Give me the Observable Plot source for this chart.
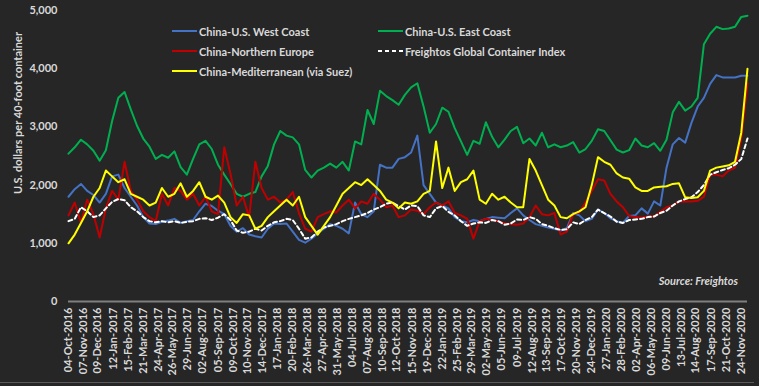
<!DOCTYPE html>
<html><head><meta charset="utf-8">
<script src="https://cdn.jsdelivr.net/npm/d3@7"></script>
<script src="https://cdn.jsdelivr.net/npm/@observablehq/plot@0.6"></script>
<style>
html,body{margin:0;padding:0;background:#262626;}
#wrap{position:relative;width:759px;height:386px;overflow:hidden;background:#262626;font-family:Lato,"Open Sans",sans-serif;color:#d9d9d9;}
#wrap svg{position:absolute;left:0;top:0;}
.lg{position:absolute;display:flex;align-items:center;height:14px;font-size:11px;font-weight:700;white-space:nowrap;color:#d9d9d9;}
.lg svg{position:static !important;margin-right:2px;}
#ylab{position:absolute;left:17px;top:113px;transform:translate(-50%,-50%) rotate(-90deg);font-size:11px;font-weight:700;white-space:nowrap;}
#src{position:absolute;right:21px;top:274px;font-size:11px;font-style:italic;font-weight:700;}
#bot{position:absolute;left:0;top:382px;width:754px;height:1px;background:#5a5a5a;}
</style></head>
<body><div id="wrap"></div>
<script>
// sampling grid: every 14 days from the first date
const startDate = "04-Oct-2016";
const stepDays = 14;

const westCoast = [1800,1930,2020,1900,1830,1700,1850,2150,2180,1950,
1800,1650,1450,1340,1330,1370,1390,1420,1350,1380,
1400,1550,1680,1640,1560,1500,1300,1200,1260,1150,
1120,1100,1250,1340,1330,1340,1200,1060,1010,1080,
1170,1250,1330,1300,1250,1170,1700,1500,1450,1550,
2350,2300,2300,2450,2480,2560,2850,2000,1850,1700,
1650,1600,1450,1380,1360,1400,1380,1420,1450,1440,
1430,1520,1600,1480,1400,1330,1300,1270,1250,1220,
1260,1520,1480,1380,1420,1580,1520,1430,1380,1350,
1470,1480,1600,1510,1720,1650,2300,2700,2810,2730,
3070,3350,3500,3740,3890,3850,3850,3850,3880,3880];

const eastCoast = [2540,2650,2780,2700,2590,2420,2600,3100,3500,3600,
3300,3020,2800,2660,2450,2520,2470,2580,2310,2180,
2450,2700,2760,2620,2350,2180,2020,1850,1800,1850,
1880,2150,2330,2700,2930,2850,2820,2700,2260,2130,
2250,2300,2370,2300,2400,2250,2750,2700,3290,3050,
3620,3530,3460,3380,3550,3680,3750,3350,2900,3050,
3330,3260,2980,2750,2520,2760,2710,3080,2830,2650,
2780,2930,3000,2720,2800,2680,2900,2650,2700,2650,
2680,2740,2560,2620,2760,2960,2930,2770,2610,2560,
2600,2800,2680,2650,2720,2590,2780,3250,3430,3280,
3350,3500,4420,4600,4720,4680,4690,4720,4890,4910];

const northernEurope = [1480,1700,1350,1750,1500,1100,1600,1900,1750,2400,
1900,1750,1550,1450,1380,1850,1650,1950,1900,1750,
1850,1650,1800,1550,1500,2650,2200,1650,1800,1450,
2400,1950,1750,1800,1700,1750,1880,1520,1250,1200,
1450,1500,1550,1530,1650,1750,1600,1720,1680,1850,
1750,1620,1650,1450,1480,1580,1560,1500,1620,1700,
1650,1720,1520,1480,1420,1080,1380,1420,1400,1380,
1340,1330,1320,1340,1450,1650,1500,1480,1520,1150,
1200,1500,1530,1700,1900,2100,2080,1850,1720,1620,
1470,1450,1440,1460,1460,1540,1620,1650,1720,1720,
1720,1730,1800,2180,2180,2150,2250,2300,2800,3750];

const freightosIndex = [1380,1420,1620,1550,1450,1480,1600,1710,1760,1740,
1620,1550,1450,1380,1360,1380,1360,1380,1350,1370,
1380,1420,1430,1400,1440,1500,1400,1220,1180,1200,
1250,1220,1300,1360,1380,1420,1400,1250,1080,1100,
1200,1270,1300,1330,1380,1420,1450,1480,1520,1580,
1620,1680,1700,1640,1580,1650,1640,1480,1450,1600,
1640,1540,1480,1380,1300,1340,1360,1350,1400,1380,
1320,1340,1410,1400,1450,1420,1330,1300,1260,1230,
1240,1360,1330,1400,1450,1580,1520,1460,1370,1350,
1400,1410,1420,1450,1460,1520,1560,1650,1720,1760,
1790,1880,2000,2180,2220,2260,2290,2350,2450,2800];

const mediterranean = [1000,1150,1350,1550,1800,1950,2250,2150,2050,2100,
1850,1800,1750,1650,1700,1950,1800,1850,2030,1800,
1900,2050,1800,1750,1820,1700,1450,1350,1500,1480,
1250,1300,1450,1550,1650,1750,1650,1800,1450,1300,
1150,1300,1450,1650,1850,1950,2050,2000,2100,2000,
1900,1750,1700,1600,1700,1680,1720,1850,1900,2750,
1950,2300,1900,2050,2100,2250,1750,1680,1850,1750,
1800,1700,1620,1620,2450,2250,2000,1750,1650,1450,
1430,1500,1550,1620,2000,2480,2400,2350,2200,2130,
2110,1960,1900,1900,1960,1970,1980,2020,2030,1790,
1780,1790,1900,2250,2300,2320,2340,2400,2900,4000];

const tickLabels = ["04-Oct-2016","07-Nov-2016","09-Dec-2016","12-Jan-2017","15-Feb-2017","21-Mar-2017","24-Apr-2017","26-May-2017","29-Jun-2017","02-Aug-2017","05-Sep-2017","09-Oct-2017","10-Nov-2017","14-Dec-2017","17-Jan-2018","20-Feb-2018","26-Mar-2018","27-Apr-2018","31-May-2018","04-Jul-2018","07-Aug-2018","10-Sep-2018","12-Oct-2018","15-Nov-2018","19-Dec-2018","22-Jan-2019","25-Feb-2019","29-Mar-2019","02-May-2019","05-Jun-2019","09-Jul-2019","12-Aug-2019","13-Sep-2019","17-Oct-2019","20-Nov-2019","24-Dec-2019","27-Jan-2020","28-Feb-2020","02-Apr-2020","06-May-2020","09-Jun-2020","13-Jul-2020","14-Aug-2020","17-Sep-2020","21-Oct-2020","24-Nov-2020"];
const yTicks = [0,1000,2000,3000,4000,5000];

const seriesNames = ["China-U.S. West Coast","China-U.S. East Coast","China-Northern Europe","Freightos Global Container Index","China-Mediterranean (via Suez)"];
const seriesColors = ["#4472C4","#00B050","#C00000","#FFFFFF","#FFFF00"];
const seriesValues = [westCoast, eastCoast, northernEurope, freightosIndex, mediterranean];

const parse = d3.utcParse("%d-%b-%Y");
const t0 = parse(startDate);
const dates = westCoast.map((_, i) => d3.utcDay.offset(t0, i * stepDays));
const ticks = tickLabels.map(parse);

const series = seriesNames.map((name, k) => ({
  name, color: seriesColors[k], dashed: name.startsWith("Freightos"),
  rows: seriesValues[k].map((v, i) => ({date: dates[i], value: v}))
}));

const chart = Plot.plot({
  width: 759, height: 386,
  marginLeft: 68, marginRight: 12, marginTop: 10, marginBottom: 85,
  style: {background: "transparent", color: "#d9d9d9", fontFamily: "Lato, 'Open Sans', sans-serif", fontSize: "11px", fontWeight: 700},
  x: {type: "utc", domain: [t0, dates[dates.length - 1]], ticks, tickFormat: d3.utcFormat("%d-%b-%Y"), tickRotate: -90, tickSize: 0, tickPadding: 6, label: null},
  y: {domain: [0, 5000], ticks: yTicks, tickFormat: d3.format(","), tickSize: 0, tickPadding: 11, label: null},
  marks: [
    Plot.ruleY([0], {stroke: "#7f7f7f", strokeWidth: 2}),
    ...series.map(s => Plot.lineY(s.rows, {x: "date", y: "value", stroke: s.color, strokeWidth: 2, strokeDasharray: s.dashed ? "4,3" : null}))
  ]
});

const wrap = document.getElementById("wrap");
wrap.appendChild(chart);

function sample(color, dashed) {
  return `<svg width="25" height="6"><line x1="0" x2="25" y1="3" y2="3" stroke="${color}" stroke-width="2" ${dashed ? 'stroke-dasharray="4,3"' : ''}/></svg>`;
}
const legendPos = [[172, 24], [378, 24], [172, 44], [378, 44], [172, 64]];
series.forEach((s, k) => {
  const d = document.createElement("div");
  d.className = "lg";
  d.style.left = legendPos[k][0] + "px";
  d.style.top = legendPos[k][1] + "px";
  d.innerHTML = sample(s.color, s.dashed) + `<span>${s.name}</span>`;
  wrap.appendChild(d);
});
const yl = document.createElement("div"); yl.id = "ylab"; yl.textContent = "U.S. dollars per 40-foot container"; wrap.appendChild(yl);
const src = document.createElement("div"); src.id = "src"; src.textContent = "Source: Freightos"; wrap.appendChild(src);
const bot = document.createElement("div"); bot.id = "bot"; wrap.appendChild(bot);
</script>
</body></html>
